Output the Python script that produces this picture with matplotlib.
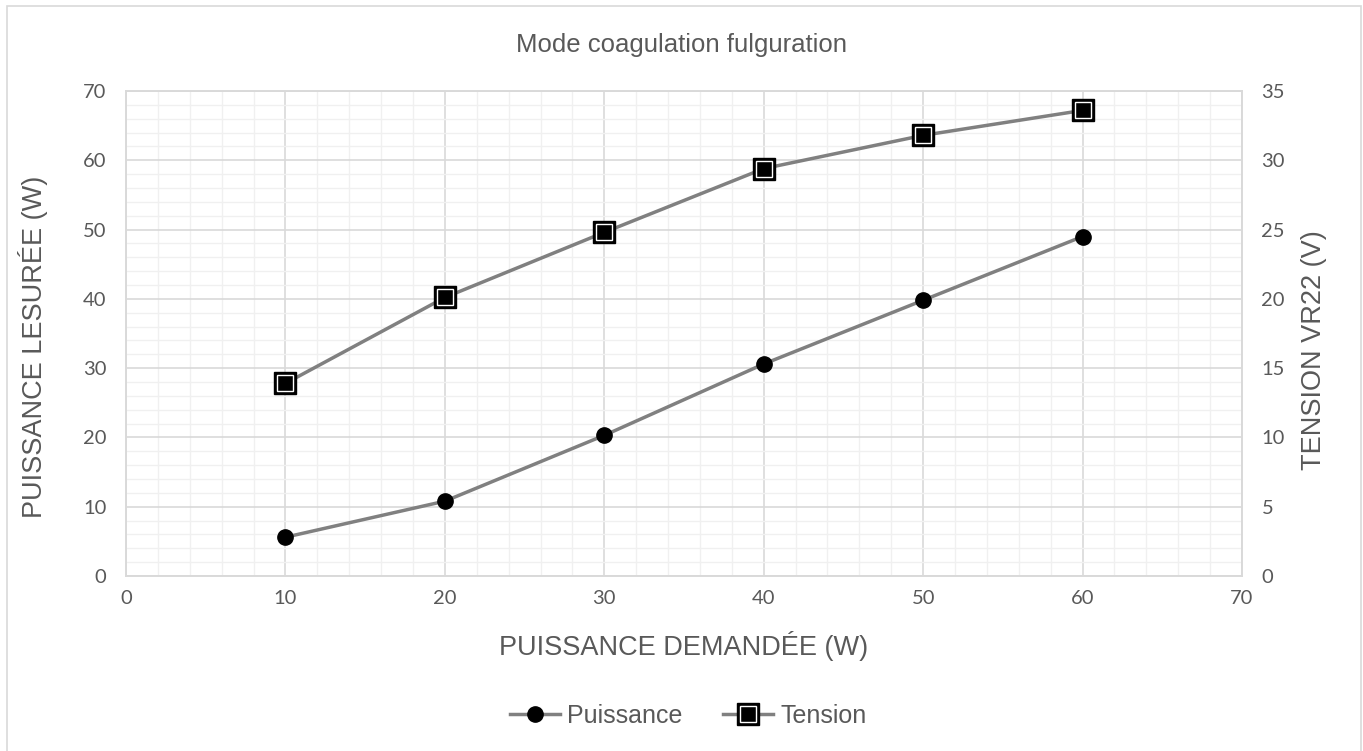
import matplotlib
matplotlib.use("Agg")
import matplotlib.pyplot as plt
from matplotlib.lines import Line2D
from matplotlib.patches import Rectangle
from matplotlib.ticker import MultipleLocator

x_vals = [10, 20, 30, 40, 50, 60]
puissance = [5.6, 10.8, 20.3, 30.6, 39.8, 49.0]
tension = [13.9, 20.1, 24.8, 29.4, 31.8, 33.6]
title = "Mode coagulation fulguration"
xlabel = "PUISSANCE DEMANDÉE (W)"
ylabel_left = "PUISSANCE LESURÉE (W)"
ylabel_right = "TENSION VR22 (V)"
legend_labels = ["Puissance", "Tension"]

W, H = 1363, 751
fig = plt.figure(figsize=(W / 100, H / 100), dpi=100)
fig.patch.set_facecolor("white")

# outer chart border
fig.add_artist(Rectangle((7 / W, -0.05), (1361 - 7) / W, (H - 6) / H + 0.05,
                         transform=fig.transFigure, fill=False,
                         edgecolor="#d9d9d9", linewidth=1.2))

left, right, top, bottom = 126, 1242, 91, 576
ax = fig.add_axes([left / W, 1 - bottom / H, (right - left) / W, (bottom - top) / H])
ax2 = ax.twinx()

tick_font = "Lato"
label_font = "Liberation Sans"
txt_col = "#595959"
line_col = "#808080"

ax.set_xlim(0, 70)
ax.set_ylim(0, 70)
ax2.set_ylim(0, 35)

ax.xaxis.set_major_locator(MultipleLocator(10))
ax.xaxis.set_minor_locator(MultipleLocator(2))
ax.yaxis.set_major_locator(MultipleLocator(10))
ax.yaxis.set_minor_locator(MultipleLocator(2))
ax2.yaxis.set_major_locator(MultipleLocator(5))

ax.grid(which="minor", color="#f0f0f0", linewidth=1.0)
ax.grid(which="major", color="#d9d9d9", linewidth=1.2)
ax.set_axisbelow(True)
ax.tick_params(which="both", length=0)
ax2.tick_params(which="both", length=0)

for a in (ax, ax2):
    for s in a.spines.values():
        s.set_color("#d9d9d9")
        s.set_linewidth(1.2)

for lab in ax.get_xticklabels() + ax.get_yticklabels() + ax2.get_yticklabels():
    lab.set_fontfamily(tick_font)
    lab.set_fontsize(14.5)
    lab.set_color(txt_col)
ax.tick_params(axis="x", pad=10)
ax.tick_params(axis="y", pad=14)
ax2.tick_params(axis="y", pad=14)

# Puissance series
ax.plot(x_vals, puissance, color=line_col, linewidth=2.5, zorder=3)
ax.plot(x_vals, puissance, linestyle="none", marker="o", markersize=11,
        markerfacecolor="black", markeredgecolor="black", zorder=4)

# Tension series
ax2.plot(x_vals, tension, color=line_col, linewidth=2.5, zorder=3)
ax2.plot(x_vals, tension, linestyle="none", marker="s", markersize=15.5,
         markerfacecolor="black", markeredgecolor="black", markeredgewidth=1.0, zorder=4)
ax2.plot(x_vals, tension, linestyle="none", marker="s", markersize=11.5,
         markerfacecolor="black", markeredgecolor="white", markeredgewidth=1.0, zorder=5)

fig.text(0.5, 1 - 45 / H, title, ha="center", va="center",
         fontfamily=label_font, fontsize=18.5, color=txt_col)
fig.text(684 / W, 1 - 646 / H, xlabel, ha="center", va="center",
         fontfamily=label_font, fontsize=19.5, color=txt_col)
fig.text(33 / W, 1 - 347 / H, ylabel_left, ha="center", va="center", rotation=90,
         fontfamily=label_font, fontsize=19.5, color=txt_col)
fig.text(1314 / W, 1 - 350 / H, ylabel_right, ha="center", va="center", rotation=90,
         fontfamily=label_font, fontsize=19.5, color=txt_col)

handles = [
    Line2D([], [], color=line_col, linewidth=2.5, marker="o", markersize=11,
           markerfacecolor="black", markeredgecolor="black"),
    (Line2D([], [], color=line_col, linewidth=2.5, marker="s", markersize=15.5,
            markerfacecolor="black", markeredgecolor="black"),
     Line2D([], [], linestyle="none", marker="s", markersize=11.5,
            markerfacecolor="black", markeredgecolor="white", markeredgewidth=1.0)),
]
leg = fig.legend(handles, legend_labels, loc="center", bbox_to_anchor=(688 / W, 1 - 716 / H),
                 ncol=2, frameon=False, handlelength=2.0, handletextpad=0.3,
                 columnspacing=1.6, prop={"family": label_font, "size": 18})
for t in leg.get_texts():
    t.set_color(txt_col)

fig.savefig("out.png", dpi=100, facecolor="white")
